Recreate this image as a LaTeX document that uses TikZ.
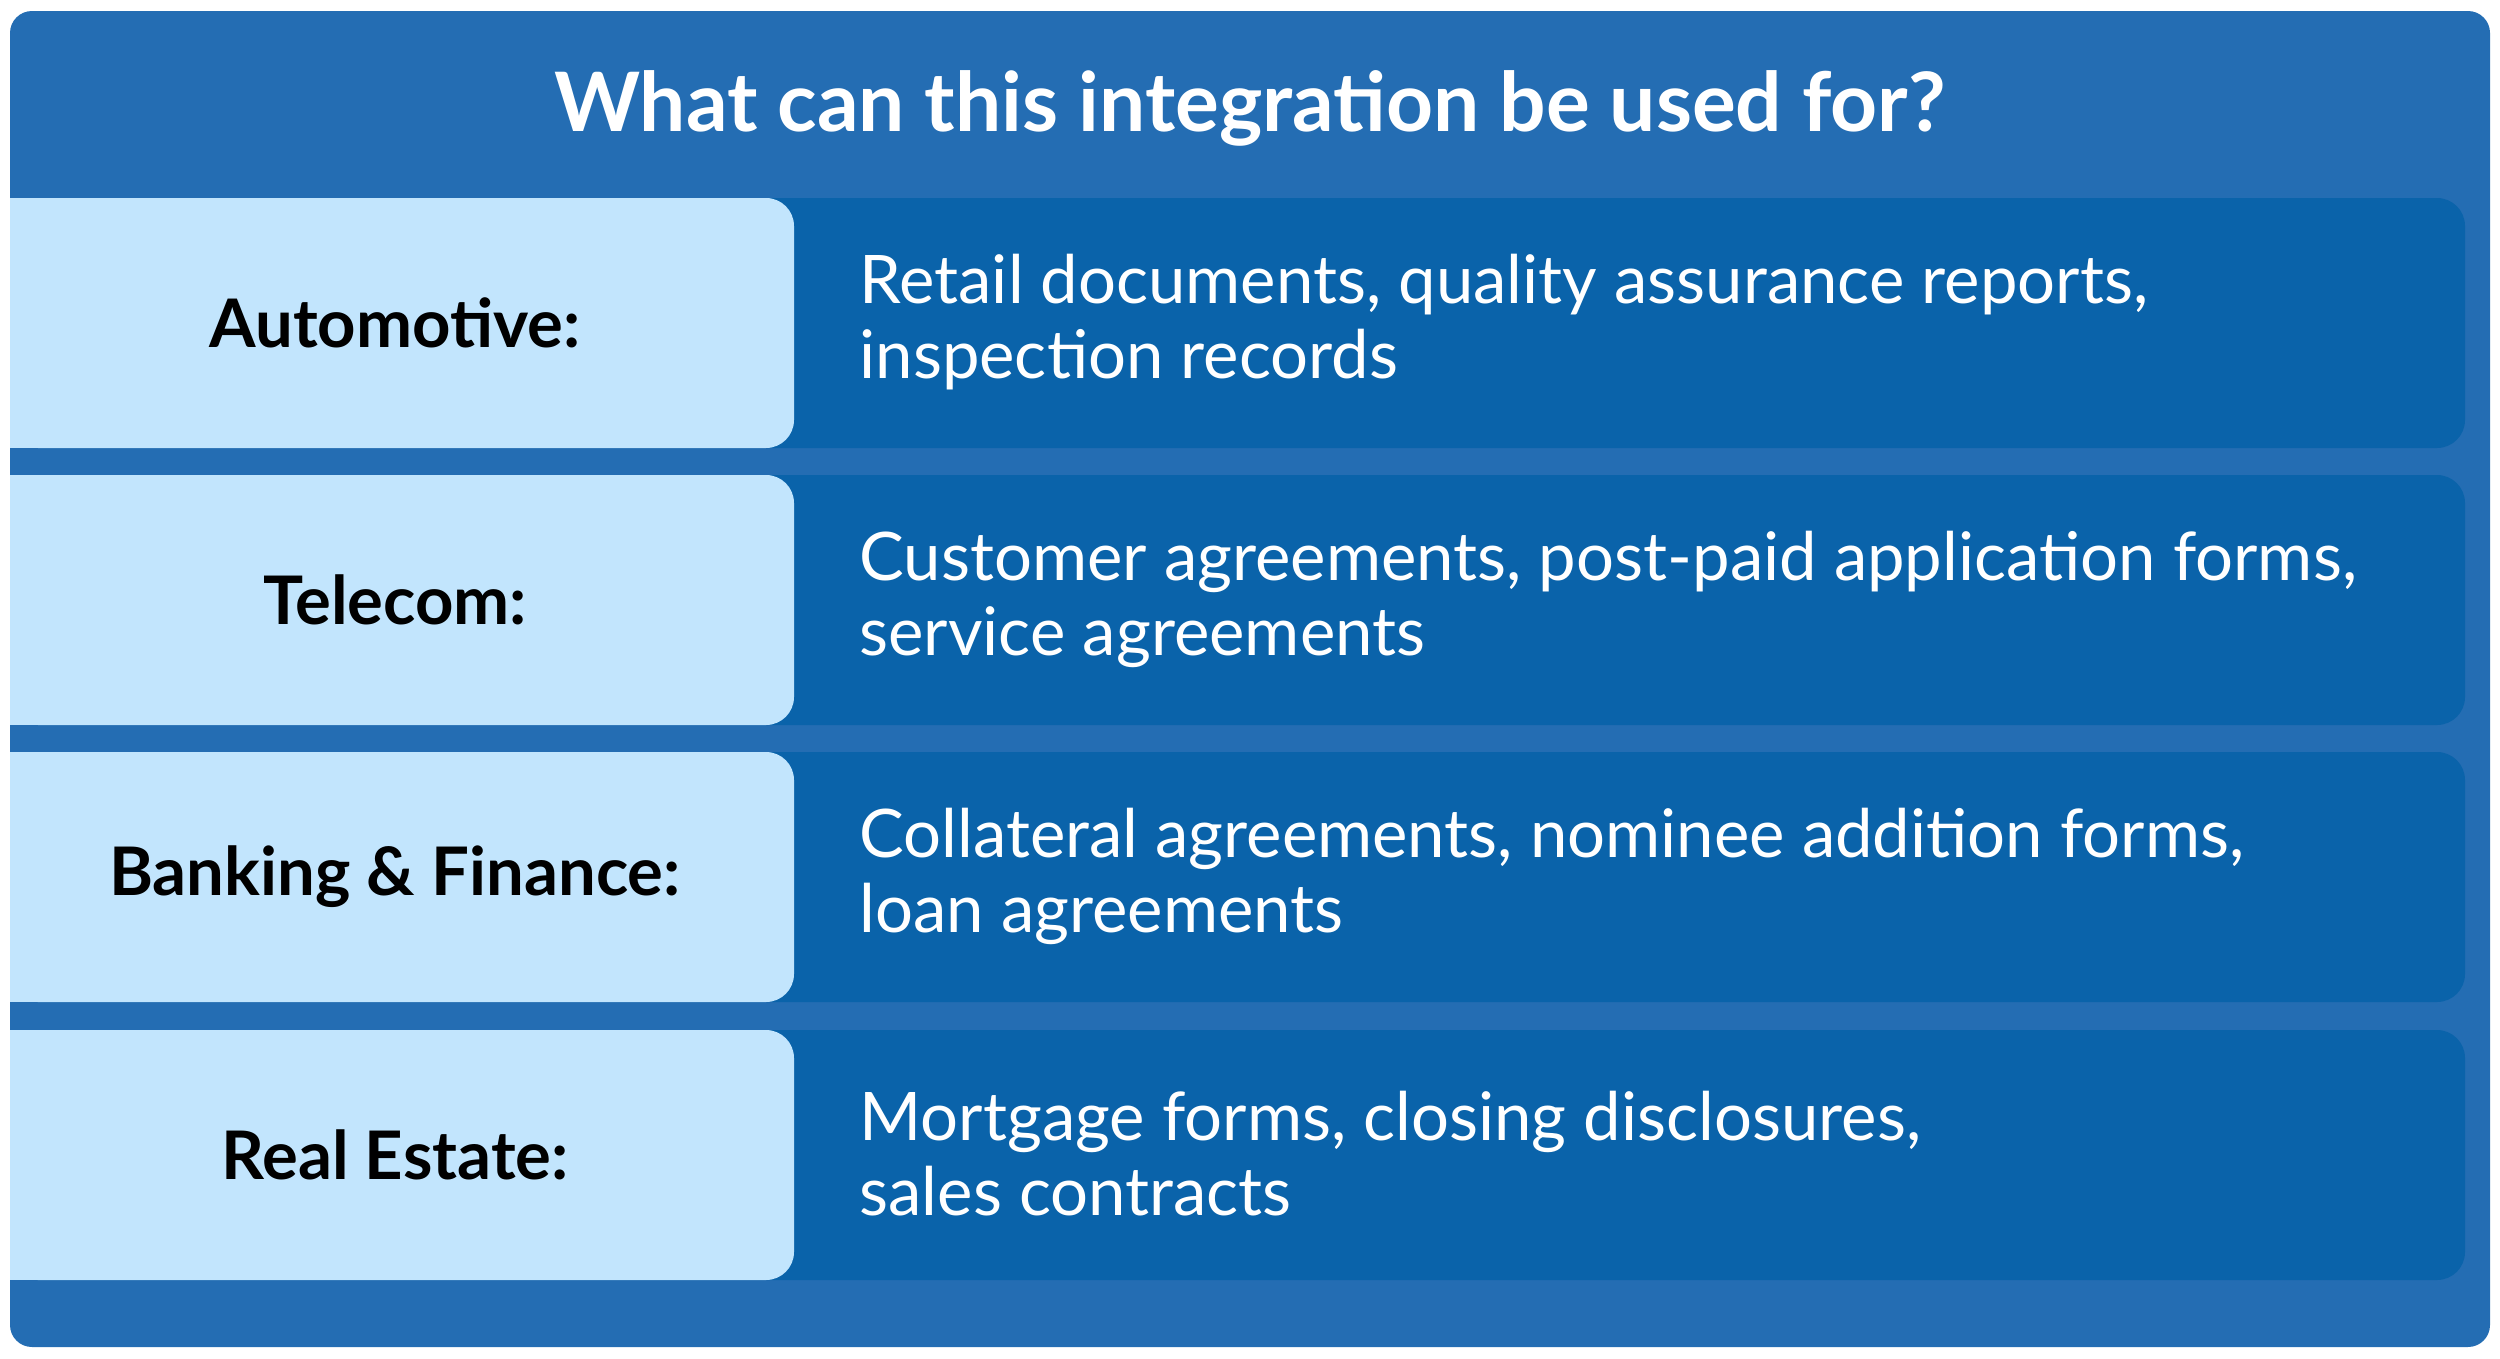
\documentclass[tikz,border=0pt]{standalone}
\usepackage{fontspec}
\setmainfont{Lato}
\definecolor{outerc}{HTML}{246DB3}
\definecolor{lightc}{HTML}{C2E5FD}
\definecolor{darkc}{HTML}{0A63AA}
\begin{document}
\begin{tikzpicture}[x=1pt,y=-1pt,
  lab/.style={font=\fontsize{67}{75}\selectfont\bfseries,text=black,anchor=center},
  body/.style={font=\fontsize{67}{75}\selectfont,text=white,anchor=west,align=left}]
\useasboundingbox (0,0) rectangle (2500,1358);
\fill[outerc,rounded corners=22] (10,11) rectangle (2490,1347);
\node[font=\fontsize{82}{90}\selectfont\bfseries,text=white] (title) at (1250,108) {What can this integration be used for?};
\foreach \i/\t/\l/\b in {0/198/Automotive:/{Retail documents, quality assurance reports,\\inspection records},
  1/475/Telecom:/{Customer agreements, post-paid application forms,\\service agreements},
  2/752/Banking \& Finance:/{Collateral agreements, nominee addition forms,\\loan agreements},
  3/1030/Real Estate:/{Mortgage forms, closing disclosures,\\sales contracts}}{
  \fill[darkc,rounded corners=28] (10,\t) rectangle (2465,\t+250);
  \fill[lightc,rounded corners=28] (10,\t) -- (794,\t) -- (794,\t+250) -- (10,\t+250) -- cycle;
  \fill[lightc] (10,\t) rectangle (760,\t+250);
  \node[lab] (l\i) at (395,\t+125) {\l};
  \node[body] (b\i) at (856,\t+124) {\b};
}
\end{tikzpicture}
\end{document}
